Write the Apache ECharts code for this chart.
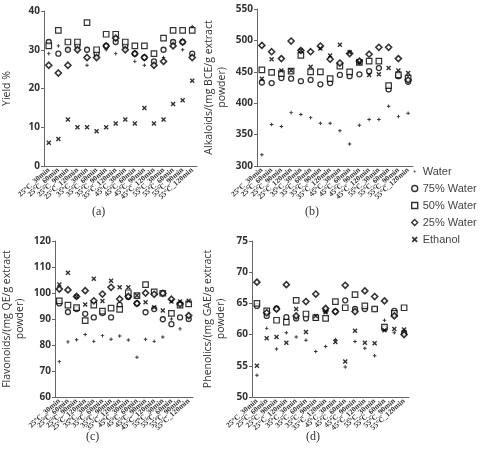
<!DOCTYPE html>
<html>
<head>
<meta charset="utf-8">
<script src="https://cdn.jsdelivr.net/npm/echarts@6/dist/echarts.min.js"></script>
<style>
  body { margin: 0; background: #fff; }
</style>
</head>
<body>
<!-- chart container -->
<div id="echartContainer" style="width:502px; height:455px"></div>
<script>
// categories (temperature_time)
var cats = ["25°C_30min", "25°C_60min", "25°C_90min", "25°C_120min",
  "35°C_30min", "35°C_60min", "35°C_90min", "35°C_120min",
  "45°C_30min", "45°C_60min", "45°C_90min", "45°C_120min",
  "55°C_30min", "55°C_60min", "55°C_90min", "55°C_120min"];

var names = ["Water", "75% Water", "50% Water", "25% Water", "Ethanol"];

// (a) yield %
var yieldWater = [29, 31, 30, 30, 26, 28, 30, 29, 30, 27, 26, 26, 28, 32, 30, 36];
var yield75 = [32, 29, 30, 31, 30, 29, 31, 32, 31, 29, 28, 27, 30, 32, 32, 29];
var yield50 = [31, 35, 32, 32, 37, 30, 34, 34, 32, 31, 31, 29, 33, 35, 35, 35];
var yield25 = [26, 24, 26, 30, 28, 28, 31, 33, 30, 29, 28, 26, 27, 31, 32, 28];
var yieldEth = [6, 7, 12, 10, 10, 9, 10, 11, 12, 11, 15, 11, 12, 16, 17, 22];

// (b) alkaloids
var alkWater = [318, 366, 363, 385, 382, 377, 368, 368, 356, 335, 365, 374, 374, 395, 379, 384];
var alk75 = [433, 432, 440, 439, 435, 437, 430, 432, 445, 443, 446, 451, 456, 422, 443, 434];
var alk50 = [453, 449, 447, 451, 476, 450, 450, 439, 459, 450, 465, 467, 467, 428, 445, 440];
var alk25 = [492, 482, 471, 499, 484, 482, 491, 470, 464, 479, 467, 478, 489, 489, 471, 437];
var alkEth = [439, 470, 452, 452, 484, 458, 487, 476, 493, 481, 465, 445, 446, 456, 452, 448];

// (c) flavonoids
var flaWater = [73.6, 81.2, 82, 84, 81.4, 83.6, 82.2, 83.5, 81.9, 75.3, 82.2, 81.4, 83.1, 90, 86.2, 91];
var fla75 = [96, 92.7, 93.8, 92, 90.6, 92.3, 90.6, 95.4, 98.5, 96, 92.6, 93.8, 89.9, 88, 90.6, 90];
var fla50 = [97, 95.3, 94.4, 89.4, 95.3, 93, 94.2, 93.7, 100.1, 99, 103.2, 100.4, 99.9, 92.2, 95.3, 95.8];
var fla25 = [101.5, 101.2, 98.7, 100.9, 97, 99.6, 102.2, 97.7, 98.7, 96, 100, 99.5, 99.9, 97.6, 95.8, 91.3];
var flaEth = [103.3, 107.8, 98.7, 95.6, 105.5, 96.9, 104.7, 102.2, 102.2, 99, 96.4, 94.5, 93.3, 96.7, 96.7, 97];

// (d) phenolics
var pheWater = [53.5, 61, 57.7, 60.3, 59.6, 59.1, 57.3, 58.1, 59.2, 54.8, 58.9, 57.8, 56.6, 62.3, 60.3, 60.3];
var phe75 = [64.6, 63, 64.2, 62.8, 62.6, 62.6, 62.7, 63.9, 63.7, 65.5, 64.1, 64.1, 64.1, 61, 63.8, 60.3];
var phe50 = [65, 63.8, 62.3, 62, 65.5, 63.3, 62.7, 62.6, 65.3, 64.3, 66.4, 64.6, 64.1, 61.2, 63.4, 64.3];
var phe25 = [68.4, 63.5, 64.1, 68, 63, 65.3, 66.5, 64.2, 63.7, 67.9, 63.7, 67, 66.1, 65.4, 63, 60];
var pheEth = [55, 59.4, 59.6, 58.7, 64.1, 60.4, 63, 63.6, 58.8, 55.7, 60.6, 58.7, 58.6, 60.7, 60.9, 60.8];

var panels = [
  [yieldWater, yield75, yield50, yield25, yieldEth],
  [alkWater, alk75, alk50, alk25, alkEth],
  [flaWater, fla75, fla50, fla25, flaEth],
  [pheWater, phe75, phe50, phe25, pheEth]
];

// marker shapes
var plusPath = "path://M0,0 L0.01,0 L0,0.01 Z M10,10 L9.99,10 L10,9.99 Z M4.4,2.8 L5.6,2.8 L5.6,4.4 L7.2,4.4 L7.2,5.6 L5.6,5.6 L5.6,7.2 L4.4,7.2 L4.4,5.6 L2.8,5.6 L2.8,4.4 L4.4,4.4 Z";
var xPath = "path://M0,2 L2,0 L5,3 L8,0 L10,2 L7,5 L10,8 L8,10 L5,7 L2,10 L0,8 L3,5 Z";
var markers = [
  { symbol: plusPath, size: 8, style: { color: "#000" } },
  { symbol: "circle", size: 5, style: { color: "#fff", borderColor: "#000", borderWidth: 1.3 } },
  { symbol: "rect", size: 5.5, style: { color: "#fff", borderColor: "#000", borderWidth: 1.2 } },
  { symbol: "diamond", size: 6, style: { color: "#fff", borderColor: "#000", borderWidth: 1.6 } },
  { symbol: xPath, size: 5, style: { color: "#000" } }
];

var grids = [
  { left: 32, top: 11, width: 165, height: 155 },
  { left: 257, top: 9, width: 156, height: 157 },
  { left: 34, top: 241, width: 159, height: 156 },
  { left: 252, top: 241, width: 157, height: 156 }
];

var yInfo = [
  { name: "Yield %", min: 0, max: 40, interval: 10, gap: 18 },
  { name: "Alkaloids/(mg BCE/g extract\npowder)", min: 300, max: 550, interval: 50, gap: 16 },
  { name: "Flavonoids/(mg QE/g extract\npowder)", min: 60, max: 120, interval: 10, gap: 16 },
  { name: "Phenolics/(mg GAE/g extract\npowder)", min: 50, max: 75, interval: 5, gap: 12 }
];

var axisLineStyle = { color: "#666", width: 1 };

var xAxes = grids.map(function (g, i) {
  return {
    type: "category",
    gridIndex: i,
    data: cats,
    boundaryGap: true,
    axisLine: { lineStyle: axisLineStyle },
    axisTick: { length: 3, lineStyle: axisLineStyle },
    axisLabel: {
      interval: 0,
      rotate: 42,
      fontSize: 7.5,
      fontWeight: "bold",
      color: "#333",
      margin: 3,
      fontFamily: "Liberation Sans Narrow"
    }
  };
});

var yAxes = yInfo.map(function (y, i) {
  return {
    type: "value",
    gridIndex: i,
    min: y.min,
    max: y.max,
    interval: y.interval,
    name: y.name,
    nameLocation: "middle",
    nameRotate: 90,
    nameGap: y.gap + 12,
    nameTextStyle: { fontSize: 10.5, color: "#333", fontFamily: "Open Sans", lineHeight: 13 },
    splitLine: { show: false },
    axisLine: { show: true, lineStyle: axisLineStyle },
    axisTick: { show: true, length: 3, lineStyle: axisLineStyle },
    axisLabel: { fontSize: 10, fontWeight: "bold", color: "#333", margin: 4, fontFamily: "Open Sans" }
  };
});

var series = [];
panels.forEach(function (sets, p) {
  sets.forEach(function (vals, k) {
    series.push({
      name: names[k],
      type: "scatter",
      xAxisIndex: p,
      yAxisIndex: p,
      data: vals,
      symbol: markers[k].symbol,
      symbolSize: markers[k].size,
      itemStyle: markers[k].style,
      z: 2 + k
    });
  });
});

var myChart = echarts.init(document.getElementById("echartContainer"));

myChart.setOption({
  animation: false,
  grid: grids,
  xAxis: xAxes,
  yAxis: yAxes,
  legend: {
    orient: "vertical",
    left: 406,
    top: 161,
    itemWidth: 6,
    itemHeight: 6,
    itemGap: 6,
    data: names,
    itemStyle: { borderWidth: 1.4 },
    textStyle: { fontSize: 11, color: "#444", fontFamily: "Liberation Sans" }
  },
  graphic: [
    { type: "text", left: 92, top: 206, style: { text: "(a)", font: "12px 'Liberation Serif'", fill: "#333" } },
    { type: "text", left: 305, top: 206, style: { text: "(b)", font: "12px 'Liberation Serif'", fill: "#333" } },
    { type: "text", left: 86, top: 431, style: { text: "(c)", font: "12px 'Liberation Serif'", fill: "#333" } },
    { type: "text", left: 306, top: 431, style: { text: "(d)", font: "12px 'Liberation Serif'", fill: "#333" } }
  ],
  series: series
});
</script>
</body>
</html>
